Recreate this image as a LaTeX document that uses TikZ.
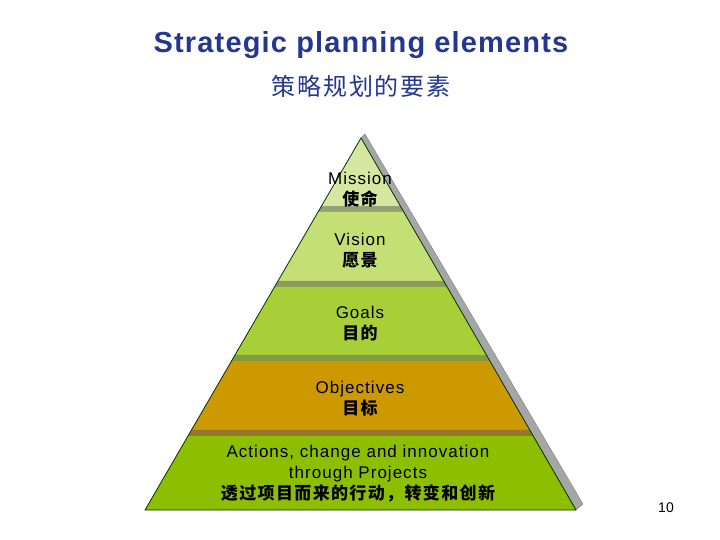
\documentclass[tikz,border=0pt]{standalone}
\usepackage{fontspec}
\usepackage{tikz}
\usetikzlibrary{calc}
\usetikzlibrary{positioning}
\setmainfont{Liberation Sans}
\newfontfamily\lblfont{Liberation Sans}[LetterSpace=6]
\newfontfamily\ttlfont{Liberation Sans}[LetterSpace=4]
\newfontfamily\cjk{Noto Sans CJK SC}[LetterSpace=8]
\newcommand{\zh}[1]{{\cjk\bfseries\fontsize{17}{21}\selectfont #1}}

\definecolor{titleblue}{RGB}{35,55,145}
\definecolor{missionfill}{RGB}{213,231,160}
\definecolor{missionedge}{RGB}{150,160,115}
\definecolor{visionfill}{RGB}{196,223,115}
\definecolor{visionedge}{RGB}{140,155,90}
\definecolor{goalsfill}{RGB}{168,207,56}
\definecolor{goalsedge}{RGB}{130,155,65}
\definecolor{objfill}{RGB}{204,153,0}
\definecolor{objedge}{RGB}{150,120,45}
\definecolor{actfill}{RGB}{141,191,0}
\definecolor{shadowgray}{RGB}{166,166,166}
\definecolor{shadowline}{RGB}{128,128,128}

\tikzset{lbl/.style = {align=center, font=\fontsize{17}{21}\selectfont\lblfont, text=black}}
\tikzset{rim/.style = {draw=black!80!green, line width=0.8pt, line join=round}}

\begin{document}
\begin{tikzpicture}[x=1pt, y=-1pt]
\useasboundingbox (0,0) rectangle (720,540);
% corners of the pyramid and its side
\coordinate (apex) at (361,138);
\coordinate (bl) at (145,510);
\coordinate (br) at (576,510);
\coordinate (sapex) at (365,134);
\coordinate (sbr) at (583,504);
\filldraw [fill=shadowgray, draw=shadowline, line join=round] (sapex) -- (sbr) -- (br) -- (apex) -- cycle;
% bands, top to bottom
\foreach \ta/\tb/\col in {0/0.1828/missionfill, 0.1828/0.1989/missionedge,
                          0.1989/0.3844/visionfill, 0.3844/0.4005/visionedge,
                          0.4005/0.5833/goalsfill, 0.5833/0.5995/goalsedge,
                          0.5995/0.7849/objfill, 0.7849/0.8011/objedge,
                          0.8011/1/actfill}
  \fill [\col] ($(apex)!\ta!(bl)$) -- ($(apex)!\tb!(bl)$) -- ($(apex)!\tb!(br)$) -- ($(apex)!\ta!(br)$) -- cycle;
\draw [rim] (apex) -- (bl) -- (br) -- cycle;

\node [font=\fontsize{29}{34}\selectfont\ttlfont\bfseries, text=titleblue, anchor=base] (title) at (361,53) {Strategic planning elements};
\node [font=\cjk\fontsize{24}{28}\selectfont, text=titleblue] (subtitle) at (361,86) {策略规划的要素};

\node [lbl] (mission) at (360,189.5) {Mission\\\zh{使命}};
\node [lbl] (vision) at (360,251) {Vision\\\zh{愿景}};
\node [lbl] (goals) at (360,324) {Goals\\\zh{目的}};
\node [lbl] (objectives) at (360,399) {Objectives\\\zh{目标}};
\node [lbl] (actions) at (358,474) {Actions, change and innovation\\through Projects\\\zh{透过项目而来的行动，转变和创新}};

\node [font=\fontsize{14}{16}\selectfont] (pagenum) at (666,508) {10};
\end{tikzpicture}
\end{document}
